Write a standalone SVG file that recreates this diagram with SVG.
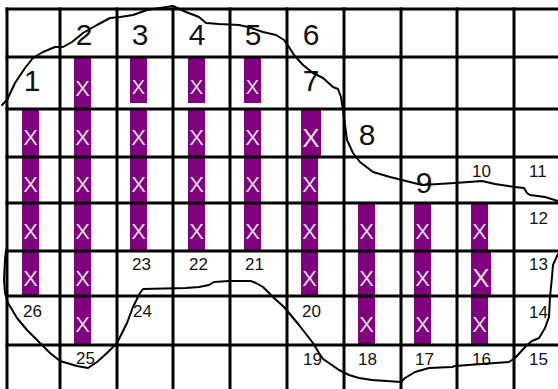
<svg xmlns="http://www.w3.org/2000/svg" width="558" height="389" viewBox="0 0 558 389">
<style>
.bar{fill:#800080}
.x{font-family:"Liberation Sans",Arial,sans-serif;font-size:22px;fill:#dcdcdc;text-anchor:middle}
.xs{font-size:20px}
.xl{font-size:26px}
.big{font-family:"Liberation Sans",Arial,sans-serif;font-size:30px;fill:#111;text-anchor:middle}
.sm{font-family:"Liberation Sans",Arial,sans-serif;font-size:17px;fill:#111}
.grid line{stroke:#000;stroke-width:3}
.curve{fill:none;stroke:#000;stroke-width:2;stroke-linejoin:round;stroke-linecap:round}
</style>
<rect width="558" height="389" fill="#fff"/>
<g id="bars">
<rect class="bar" x="22" y="109" width="17" height="187"/>
<rect class="bar" x="74" y="57" width="17" height="288"/>
<rect class="bar" x="130" y="57" width="17" height="46"/>
<rect class="bar" x="130" y="109" width="17" height="142"/>
<rect class="bar" x="188" y="57" width="17" height="46"/>
<rect class="bar" x="188" y="109" width="17" height="142"/>
<rect class="bar" x="244" y="57" width="17" height="46"/>
<rect class="bar" x="244" y="109" width="17" height="142"/>
<rect class="bar" x="301" y="109" width="20" height="48"/>
<rect class="bar" x="301" y="157" width="17" height="139"/>
<rect class="bar" x="358" y="203" width="17" height="142"/>
<rect class="bar" x="414" y="203" width="17" height="142"/>
<rect class="bar" x="471" y="203" width="17" height="48"/>
<rect class="bar" x="471" y="251" width="20" height="45"/>
<rect class="bar" x="471" y="296" width="17" height="49"/>
</g>
<g id="marks">
<text class="x" x="30.5" y="145">X</text>
<text class="x" x="30.5" y="192">X</text>
<text class="x" x="30.5" y="239">X</text>
<text class="x" x="30.5" y="286">X</text>
<text class="x" x="82.5" y="96">X</text>
<text class="x" x="82.5" y="145">X</text>
<text class="x" x="82.5" y="192">X</text>
<text class="x" x="82.5" y="239">X</text>
<text class="x" x="82.5" y="286">X</text>
<text class="x" x="82.5" y="332">X</text>
<text class="x xs" x="138.5" y="94">X</text>
<text class="x" x="138.5" y="145">X</text>
<text class="x" x="138.5" y="192">X</text>
<text class="x" x="138.5" y="239">X</text>
<text class="x xs" x="196.5" y="94">X</text>
<text class="x" x="196.5" y="145">X</text>
<text class="x" x="196.5" y="192">X</text>
<text class="x" x="196.5" y="239">X</text>
<text class="x xs" x="252.5" y="94">X</text>
<text class="x" x="252.5" y="145">X</text>
<text class="x" x="252.5" y="192">X</text>
<text class="x" x="252.5" y="239">X</text>
<text class="x xl" x="311" y="147">X</text>
<text class="x" x="309.5" y="192">X</text>
<text class="x" x="309.5" y="239">X</text>
<text class="x" x="309.5" y="286">X</text>
<text class="x" x="366.5" y="239">X</text>
<text class="x" x="366.5" y="286">X</text>
<text class="x" x="366.5" y="332">X</text>
<text class="x" x="422.5" y="239">X</text>
<text class="x" x="422.5" y="286">X</text>
<text class="x" x="422.5" y="332">X</text>
<text class="x" x="479.5" y="239">X</text>
<text class="x xl" x="481" y="287">X</text>
<text class="x" x="479.5" y="332">X</text>
</g>
<g id="grid" class="grid">
<line x1="5.5" y1="9" x2="558" y2="9"/>
<line x1="5.5" y1="57" x2="558" y2="57"/>
<line x1="5.5" y1="109" x2="558" y2="109"/>
<line x1="5.5" y1="157" x2="558" y2="157"/>
<line x1="5.5" y1="203" x2="558" y2="203"/>
<line x1="5.5" y1="251" x2="558" y2="251"/>
<line x1="5.5" y1="296" x2="558" y2="296"/>
<line x1="5.5" y1="345" x2="558" y2="345"/>
<line x1="7" y1="7.5" x2="7" y2="389"/>
<line x1="60" y1="7.5" x2="60" y2="389"/>
<line x1="117" y1="7.5" x2="117" y2="389"/>
<line x1="173" y1="7.5" x2="173" y2="389"/>
<line x1="230" y1="7.5" x2="230" y2="389"/>
<line x1="287" y1="7.5" x2="287" y2="389"/>
<line x1="344" y1="7.5" x2="344" y2="389"/>
<line x1="401" y1="7.5" x2="401" y2="389"/>
<line x1="457" y1="7.5" x2="457" y2="389"/>
<line x1="514" y1="7.5" x2="514" y2="389"/>
</g>
<g id="labels">
<text class="big" x="32" y="91">1</text>
<text class="big" x="84" y="45">2</text>
<text class="big" x="140" y="45">3</text>
<text class="big" x="197" y="45">4</text>
<text class="big" x="253" y="45">5</text>
<text class="big" x="311" y="45">6</text>
<text class="big" x="311" y="91">7</text>
<text class="big" x="367" y="145">8</text>
<text class="big" x="424" y="193">9</text>
<text class="sm" x="472" y="177">10</text>
<text class="sm" x="529" y="177">11</text>
<text class="sm" x="529" y="224">12</text>
<text class="sm" x="529" y="270">13</text>
<text class="sm" x="529" y="318">14</text>
<text class="sm" x="529" y="365">15</text>
<text class="sm" x="472" y="365">16</text>
<text class="sm" x="415" y="365">17</text>
<text class="sm" x="358" y="365">18</text>
<text class="sm" x="303" y="365">19</text>
<text class="sm" x="302" y="317">20</text>
<text class="sm" x="245" y="270">21</text>
<text class="sm" x="189" y="270">22</text>
<text class="sm" x="132" y="270">23</text>
<text class="sm" x="133" y="317">24</text>
<text class="sm" x="76" y="364">25</text>
<text class="sm" x="23" y="317">26</text>
</g>
<g id="outline">
<path class="curve" d="M2,105 L7,100 L15,83 L25,68 L33,58 L43,52 L55,47 L63,47 L72,42 L83,33 L97,25 L110,18 L120,17 L133,15 L147,10 L160,8 L173,6 L186,12 L199,17 L206,23 L219,24 L239,25 L248,27 L263,32 L276,35 L284,40 L289,47 L294,55 L303,65 L313,73 L323,78 L333,87 L338,89 L341,97 L343,110 L347,140 L353,153 L360,162 L373,172 L390,177 L410,182 L422,185 L455,183 L482,181 L495,184 L515,187 L524,188 L527,193 L530,195 L545,197 L558,201"/>
<path class="curve" d="M558,254 L553,265 L552,277 L550,297 L549,317 L545,328 L539,338 L532,341 L527,345 L515,358 L509,362 L495,363 L455,366 L452,367 L429,368 L415,372 L405,378 L401,382 L372,380 L359,378 L349,375 L339,370 L329,363 L323,359 L319,353 L313,343 L299,325 L284,307 L274,298 L263,287 L256,283 L251,281 L229,281 L214,282 L209,285 L199,287 L186,288 L143,289 L140,293 L133,307 L127,323 L117,343 L107,353 L97,362 L88,368 L77,366 L60,361 L50,353 L40,343 L27,330 L17,318 L8,303 L5,293 L4,280 L5,260 L6,250"/>
</g>
</svg>
